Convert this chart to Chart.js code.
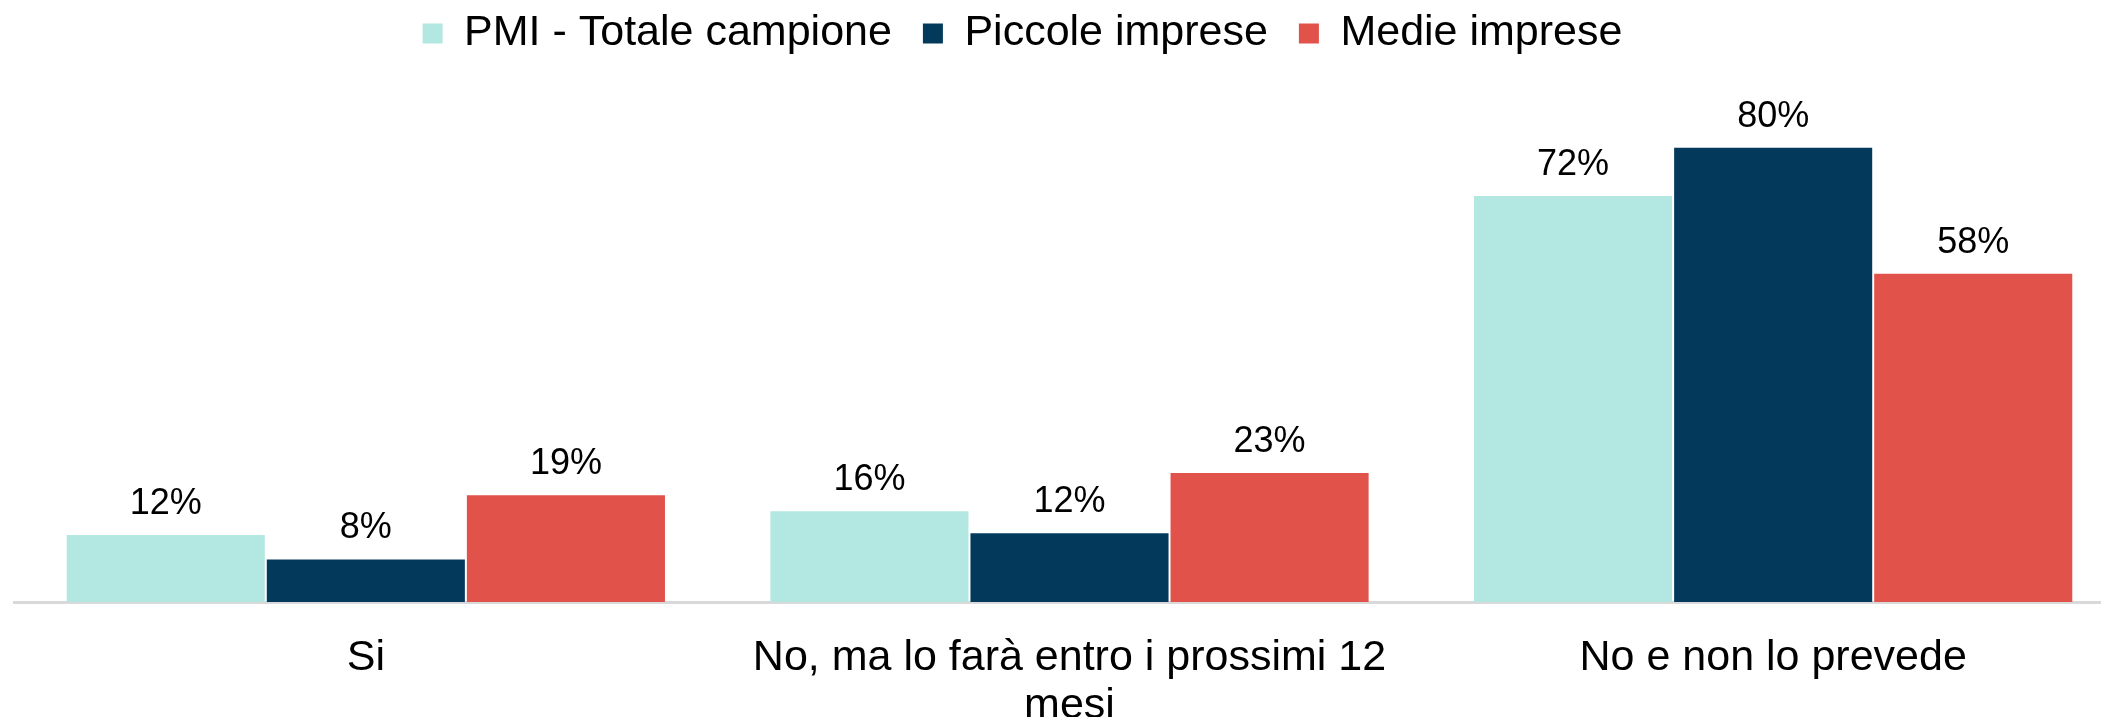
<!DOCTYPE html>
<html>
<head>
<meta charset="utf-8">
<script src="https://cdn.jsdelivr.net/npm/chart.js@4/dist/chart.umd.min.js"></script>
<style>
  body { margin: 0; background: #fff; overflow: hidden; }
  #wrap { width: 2101px; height: 717px; overflow: hidden; }
</style>
</head>
<body>
<div id="wrap"><canvas id="grafico" width="2125" height="717"></canvas></div>
<script>
const categorie = ["Si", ["No, ma lo farà entro i prossimi 12", "mesi"], "No e non lo prevede"];
const totaleCampione = [11.8, 16.0, 71.5];
const piccoleImprese = [7.5, 12.1, 80.0];
const medieImprese = [18.8, 22.7, 57.8];

const FONT = '"Liberation Sans", Arial, sans-serif';

// etichette con il valore sopra ogni barra
const etichetteValori = {
    id: "etichetteValori",
    afterDatasetsDraw(chart) {
        const ctx = chart.ctx;
        ctx.save();
        ctx.font = "36px " + FONT;
        ctx.fillStyle = "#000";
        ctx.textAlign = "center";
        ctx.textBaseline = "alphabetic";
        chart.data.datasets.forEach((ds, i) => {
            chart.getDatasetMeta(i).data.forEach((bar, j) => {
                ctx.fillText(Math.round(ds.data[j]) + "%", bar.x, bar.y - 21);
            });
        });
        ctx.restore();
    }
};

// altezza fissa della legenda e spostamento verso l'alto/sinistra
const legendaFissa = {
    id: "legendaFissa",
    beforeInit(chart) {
        const fit = chart.legend.fit;
        chart.legend.fit = function () {
            fit.bind(chart.legend)();
            this.height = 91;
        };
    },
    afterLayout(chart) {
        const l = chart.legend;
        l.left -= 47;
        l.right -= 47;
        l.top -= 19;
        l.bottom -= 19;
    }
};

new Chart(document.getElementById("grafico").getContext("2d"), {
    type: "bar",
    data: {
        labels: categorie,
        datasets: [{
            label: "PMI - Totale campione",
            data: totaleCampione,
            backgroundColor: "#B3E7E1"
        },
        {
            label: "Piccole imprese",
            data: piccoleImprese,
            backgroundColor: "#033A5C"
        },
        {
            label: "Medie imprese",
            data: medieImprese,
            backgroundColor: "#E1524A"
        }]
    },
    options: {
        responsive: false,
        animation: false,
        categoryPercentage: 0.853,
        barPercentage: 0.99,
        layout: {
            padding: { left: 14, right: 0, top: 0, bottom: 0 }
        },
        plugins: {
            legend: {
                position: "top",
                labels: {
                    color: "#000",
                    font: { family: FONT, size: 43 },
                    boxWidth: 20,
                    boxHeight: 20,
                    padding: 31
                }
            },
            tooltip: { enabled: false }
        },
        scales: {
            x: {
                grid: { display: false, drawTicks: false },
                border: { display: true, color: "#D9D9D9", width: 3 },
                ticks: {
                    color: "#000",
                    font: { family: FONT, size: 43, lineHeight: 1.12 },
                    padding: 32,
                    maxRotation: 0,
                    autoSkip: false
                },
                afterFit(scale) {
                    scale.height = 115;
                }
            },
            y: {
                display: false,
                min: 0,
                max: 90
            }
        }
    },
    plugins: [etichetteValori, legendaFissa]
});
</script>
</body>
</html>
